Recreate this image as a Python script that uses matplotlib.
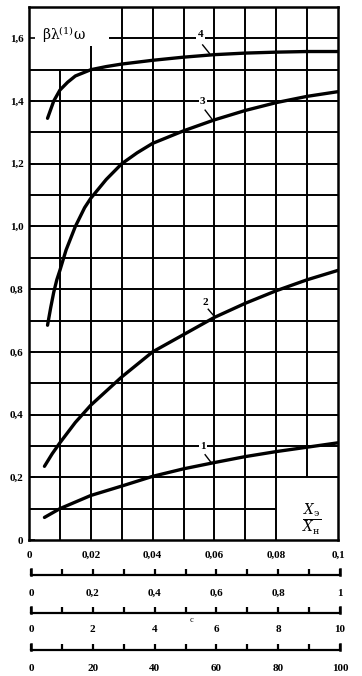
import numpy as np
import matplotlib
matplotlib.use("Agg")
import matplotlib.pyplot as plt

plt.rcParams['font.family'] = ['Liberation Serif', 'DejaVu Serif']
plt.rcParams['mathtext.fontset'] = 'dejavuserif'

# ---- data ----
x1 = [0.005, 0.01, 0.02, 0.03, 0.04, 0.05, 0.06, 0.07, 0.08, 0.09, 0.1]
y1 = [0.072, 0.10, 0.142, 0.172, 0.203, 0.227, 0.247, 0.266, 0.282, 0.296, 0.31]

x2 = [0.005, 0.0075, 0.01, 0.015, 0.02, 0.025, 0.03, 0.04, 0.05, 0.06, 0.07, 0.08, 0.09, 0.1]
y2 = [0.235, 0.275, 0.31, 0.375, 0.43, 0.475, 0.52, 0.60, 0.655, 0.71, 0.755, 0.795, 0.83, 0.86]

x3 = [0.006, 0.007, 0.008, 0.009, 0.01, 0.012, 0.015, 0.018, 0.02, 0.025, 0.03, 0.035,
      0.04, 0.05, 0.06, 0.07, 0.08, 0.09, 0.1]
y3 = [0.685, 0.74, 0.79, 0.83, 0.86, 0.925, 1.0, 1.06, 1.09, 1.15, 1.2, 1.235,
      1.265, 1.305, 1.34, 1.37, 1.395, 1.415, 1.43]

x4 = [0.006, 0.008, 0.01, 0.0125, 0.015, 0.02, 0.025, 0.03, 0.04, 0.05, 0.06, 0.07,
      0.08, 0.09, 0.1]
y4 = [1.345, 1.40, 1.435, 1.46, 1.48, 1.50, 1.51, 1.518, 1.53, 1.54, 1.548, 1.553,
      1.556, 1.558, 1.558]

curve_labels = ['1', '2', '3', '4']
label_pos = [(0.0562, 0.299), (0.057, 0.757), (0.0562, 1.397), (0.0555, 1.612)]
leader_from = [(0.057, 0.272), (0.058, 0.736), (0.057, 1.371), (0.0562, 1.579)]
leader_to = [(0.0591, 0.245), (0.060, 0.713), (0.0591, 1.344), (0.0584, 1.552)]

xticks = [0, 0.02, 0.04, 0.06, 0.08, 0.1]
xticklabels = ['0', '0,02', '0,04', '0,06', '0,08', '0,1']
yticks = [0, 0.2, 0.4, 0.6, 0.8, 1.0, 1.2, 1.4, 1.6]
yticklabels = ['0', '0,2', '0,4', '0,6', '0,8', '1,0', '1,2', '1,4', '1,6']

scale1_ticks = [0, 0.2, 0.4, 0.6, 0.8, 1.0]
scale1_labels = ['0', '0,2', '0,4', '0,6', '0,8', '1']
scale2_ticks = [0, 2, 4, 6, 8, 10]
scale2_labels = ['0', '2', '4', '6', '8', '10']
scale3_ticks = [0, 20, 40, 60, 80, 100]
scale3_labels = ['0', '20', '40', '60', '80', '100']

# ---- figure ----
W, H = 362, 676
fig = plt.figure(figsize=(W / 100, H / 100), dpi=100)
fig.patch.set_facecolor('white')

def fx(px):
    return px / W

def fy(py):
    return 1 - py / H

ax = fig.add_axes([fx(29), fy(540), fx(338) - fx(29), fy(7) - fy(540)])
ax.set_xlim(0, 0.1)
ax.set_ylim(0, 1.7)

glw = 1.4
gkw = dict(color='black', lw=glw, zorder=1)
# vertical grid lines (with the partial ones as in the original)
ax.vlines(0.01, 0, 1.5, **gkw)
ax.vlines(0.02, 0, 1.575, **gkw)
for xv in [0.03, 0.04, 0.05, 0.06, 0.07, 0.08]:
    ax.vlines(xv, 0, 1.7, **gkw)
ax.vlines(0.09, 0.2, 1.7, **gkw)
# horizontal grid lines
ax.hlines(0.1, 0, 0.08, **gkw)
for yv in [0.2, 0.3, 0.4, 0.5, 0.6, 0.7, 0.8, 0.9, 1.0, 1.1, 1.2, 1.3, 1.4, 1.5]:
    ax.hlines(yv, 0, 0.1, **gkw)
ax.hlines(1.6, 0.026, 0.1, **gkw)

for s in ax.spines.values():
    s.set_linewidth(1.8)
    s.set_zorder(3)

# curves
for xs, ys in [(x1, y1), (x2, y2), (x3, y3), (x4, y4)]:
    ax.plot(xs, ys, color='black', lw=2.4, solid_capstyle='round', zorder=4)

# curve labels with leader lines
for lab, (tx, ty), (ax0, ay0), (ax1, ay1) in zip(curve_labels, label_pos, leader_from, leader_to):
    ax.text(tx, ty, lab, fontsize=8, fontweight='bold', ha='center', va='center',
            zorder=5, bbox=dict(facecolor='white', edgecolor='none', pad=1.0))
    ax.plot([ax0, ax1], [ay0, ay1], color='black', lw=1.0, zorder=5)

ax.set_xticks(xticks)
ax.set_xticklabels(xticklabels, fontsize=8, fontweight='bold')
ax.set_yticks(yticks)
ax.set_yticklabels(yticklabels, fontsize=8, fontweight='bold')
ax.tick_params(axis='x', direction='in', length=0, pad=8)
ax.tick_params(axis='y', direction='in', length=4, width=1.2, pad=4)

# axis titles
ax.text(0.0042, 1.612, r'$\mathrm{\beta\lambda^{(1)}\omega}$', fontsize=10,
        ha='left', va='center', zorder=5)
ax.text(0.0916, 0.064, r'$\frac{X_{\mathrm{э}}}{X_{\mathrm{н}}}$', fontsize=14,
        ha='center', va='center', zorder=5)

# ---- auxiliary scales below ----
def scale_axis(py, lim, ticks, labels, pad):
    sa = fig.add_axes([fx(31), fy(py), fx(340) - fx(31), 0.012])
    sa.set_xlim(0, lim)
    sa.set_ylim(0, 1)
    for k in ['top', 'left', 'right']:
        sa.spines[k].set_visible(False)
    sa.spines['bottom'].set_linewidth(1.6)
    sa.set_yticks([])
    sa.set_xticks(ticks)
    sa.set_xticklabels(labels, fontsize=8, fontweight='bold')
    sa.xaxis.remove_overlapping_locs = False
    sa.set_xticks([lim * k / 10 for k in range(11)], minor=True)
    sa.tick_params(axis='x', which='major', direction='in', length=0, pad=pad)
    sa.tick_params(axis='x', which='minor', direction='in', length=4, width=1.6)
    sa.patch.set_alpha(0)
    # taller end ticks
    sa.plot([0, 0], [0, 0.7], color='black', lw=1.8, clip_on=False)
    sa.plot([lim, lim], [0, 0.7], color='black', lw=1.8, clip_on=False)
    return sa

scale_axis(575, 1.0, scale1_ticks, scale1_labels, 10)
sa2 = scale_axis(613, 10, scale2_ticks, scale2_labels, 9)
sa2.text(5.2, -0.9, 'c', fontsize=6, ha='center', va='center')
scale_axis(650, 100, scale3_ticks, scale3_labels, 10)

fig.savefig('out.png', dpi=100, facecolor='white')
